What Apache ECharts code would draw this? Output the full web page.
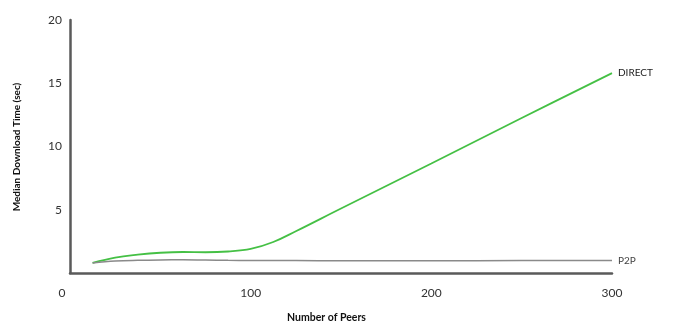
<!DOCTYPE html>
<html><head><meta charset="utf-8">
<script src="https://cdn.jsdelivr.net/npm/echarts@6/dist/echarts.min.js"></script>
<style>html,body{margin:0;padding:0;background:#fff}#c{width:675px;height:329px}</style>
</head><body><div id="c"></div>
<script>
const peers = [12.5, 25, 37.5, 50, 62.5, 75, 87.5, 100, 112.5, 125, 150, 200, 250, 300];
const direct = [0.8, 1.22, 1.45, 1.6, 1.66, 1.64, 1.7, 1.9, 2.45, 3.3, 5.1, 8.66, 12.25, 15.8];
const p2p = [0.8, 0.94, 1.0, 1.03, 1.04, 1.02, 1.0, 0.99, 0.98, 0.98, 0.97, 0.97, 0.98, 0.98];
const xTicks = [0, 100, 200, 300];
const yTicks = [5, 10, 15, 20];
const seriesNames = ['DIRECT', 'P2P'];
const xTitle = 'Number of Peers';
const yTitle = 'Median Download Time (sec)';

const font = 'Lato, "Noto Sans", sans-serif';
const chart = echarts.init(document.getElementById('c'), null, {renderer: 'canvas'});
chart.setOption({
  animation: false,
  grid: {left: 70, top: 20, right: 63, bottom: 56},
  xAxis: {
    type: 'value', min: 0, max: 300, interval: 100,
    axisLine: {show: true, lineStyle: {color: '#5a5a5a', width: 2.5}},
    axisTick: {show: false}, splitLine: {show: false},
    axisLabel: {
      margin: 14, color: '#333', fontSize: 12, fontFamily: font,
      formatter: v => xTicks.includes(v) ? (v === 0 ? '{z|0}' : String(v)) : '',
      rich: {z: {padding: [0, 16, 0, 0], fontSize: 12, fontFamily: font, color: '#333'}}
    }
  },
  yAxis: {
    type: 'value', min: 0, max: 20, interval: 5,
    axisLine: {show: true, lineStyle: {color: '#5a5a5a', width: 2.5}},
    axisTick: {show: false}, splitLine: {show: false},
    axisLabel: {
      margin: 8, color: '#333', fontSize: 12, fontFamily: font,
      formatter: v => yTicks.includes(v) ? String(v) : ''
    }
  },
  graphic: [
    {type: 'text', left: 287, top: 312, style: {text: xTitle, font: 'bold 10.5px ' + font, fill: '#111'}},
    {type: 'text', x: 17, y: 147, rotation: Math.PI / 2,
     style: {text: yTitle, font: 'bold 10px ' + font, fill: '#111', align: 'center', verticalAlign: 'middle'}}
  ],
  series: [
    {
      name: seriesNames[0], type: 'line', smooth: 0.4, showSymbol: false,
      data: peers.map((p, i) => [p, direct[i]]),
      lineStyle: {color: '#45c045', width: 1.8},
      endLabel: {show: true, formatter: '{a}', distance: 6, fontSize: 10, fontFamily: font, color: '#222'}
    },
    {
      name: seriesNames[1], type: 'line', smooth: 0.4, showSymbol: false,
      data: peers.map((p, i) => [p, p2p[i]]),
      lineStyle: {color: '#8a8a8a', width: 1.5},
      endLabel: {show: true, formatter: '{a}', distance: 6, fontSize: 10, fontFamily: font, color: '#444'}
    }
  ]
});
</script></body></html>
